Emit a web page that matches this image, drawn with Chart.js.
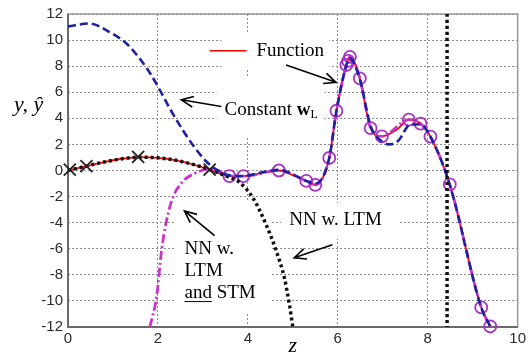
<!DOCTYPE html>
<html>
<head>
<meta charset="utf-8">
<script src="https://cdn.jsdelivr.net/npm/chart.js@4.4.1/dist/chart.umd.min.js"></script>
<style>
  html, body { margin: 0; padding: 0; background: #fff; }
  #wrap { width: 529px; height: 353px; position: relative; }
</style>
</head>
<body>
<div id="wrap"><canvas id="chart"></canvas></div>
<script>
// True function (red)
const funcZ = [0, 0.4, 0.8, 1.2, 1.6, 2.0, 2.4, 2.8, 3.15, 3.59, 3.9, 4.3, 4.69, 5.0, 5.3, 5.5, 5.81, 5.97, 6.19, 6.23, 6.27, 6.49, 6.73, 6.98, 7.3, 7.58, 7.84, 8.06, 8.49, 9.19, 9.39];
const funcY = [0, 0.33, 0.65, 0.9, 1.02, 0.97, 0.78, 0.45, 0.07, -0.43, -0.43, -0.2, 0.0, -0.35, -0.8, -1.1, 0.96, 4.58, 8.09, 8.4, 8.72, 7.07, 3.25, 2.62, 3.1, 3.9, 3.6, 2.6, -1.1, -10.5, -11.96];

// Constant w_L (blue dashed)
const constZ = [0, 0.48, 0.93, 1.3, 1.59, 1.85, 2.04, 2.26, 2.48, 2.77, 3.07, 3.29, 3.51, 3.9, 4.3, 4.69, 5.0, 5.3, 5.5, 5.81, 5.97, 6.19, 6.27, 6.49, 6.73, 6.92, 7.14, 7.35, 7.6, 7.84, 8.06, 8.49, 9.19, 9.39];
const constY = [11.05, 11.27, 10.6, 9.74, 8.6, 7.33, 6.18, 4.78, 3.5, 1.98, 0.71, 0.08, -0.3, -0.43, -0.15, 0.05, -0.3, -0.8, -1.0, 0.96, 4.58, 8.05, 8.6, 7.0, 3.4, 2.4, 2.0, 2.3, 3.5, 3.55, 2.6, -1.1, -10.5, -11.96];

// NN w. LTM (black dotted)
const ltmZ = [0, 0.4, 0.8, 1.2, 1.6, 2.0, 2.4, 2.8, 3.15, 3.5, 3.81, 4.11, 4.4, 4.63, 4.81, 4.92, 5.0];
const ltmY = [0, 0.33, 0.65, 0.9, 1.02, 0.97, 0.78, 0.45, 0.07, -0.4, -0.9, -2.09, -4.1, -6.16, -8.2, -10.2, -12];

// NN w. LTM and STM (magenta dash-dot)
const stmZ = [1.82, 1.97, 2.08, 2.19, 2.33, 2.56, 2.85, 3.1, 3.3, 3.59, 3.9, 4.69, 5.3, 5.5, 5.81, 5.97, 6.19, 6.27, 6.49, 6.73, 6.98, 7.58, 7.84, 8.06, 8.49, 9.19, 9.39];
const stmY = [-12, -9.7, -6.16, -3.87, -2.09, -0.82, -0.18, 0.1, 0.05, -0.43, -0.43, 0.0, -0.8, -1.1, 0.96, 4.58, 8.09, 8.72, 7.07, 3.25, 2.62, 3.9, 3.6, 2.6, -1.07, -10.5, -11.96];

// samples: circles (STM) and crosses (LTM)
const circleZ = [3.59, 3.9, 4.69, 5.3, 5.5, 5.81, 5.97, 6.19, 6.23, 6.27, 6.49, 6.73, 6.98, 7.58, 7.84, 8.06, 8.49, 9.19, 9.39];
const circleY = [-0.43, -0.43, 0.0, -0.8, -1.1, 0.96, 4.58, 8.09, 8.4, 8.72, 7.07, 3.25, 2.62, 3.9, 3.6, 2.6, -1.07, -10.5, -11.96];
const crossZ = [0.04, 0.41, 1.56, 3.15];
const crossY = [0.07, 0.33, 1.04, 0.07];

// vertical dotted marker
const markerZ = [8.43, 8.43];
const markerY = [12, -12];

const pts = (xs, ys) => xs.map((x, i) => ({ x: x, y: ys[i] }));

const serif = '"Liberation Serif", "Times New Roman", serif';

function arrow(ctx, x1, y1, x2, y2) {
    const a = Math.atan2(y2 - y1, x2 - x1);
    const len = 13, spread = 0.42;
    ctx.beginPath();
    ctx.moveTo(x1, y1);
    ctx.lineTo(x2, y2);
    ctx.moveTo(x2 - len * Math.cos(a - spread), y2 - len * Math.sin(a - spread));
    ctx.lineTo(x2, y2);
    ctx.lineTo(x2 - len * Math.cos(a + spread), y2 - len * Math.sin(a + spread));
    ctx.stroke();
}

// white boxes, frame and labels drawn around the data
const decorPlugin = {
    id: 'decor',
    beforeDatasetsDraw(chart) {
        const { ctx, chartArea: ca, scales: { x, y } } = chart;
        ctx.save();
        ctx.fillStyle = '#fff';
        const box = (z1, y1, z2, y2) => {
            const px1 = x.getPixelForValue(z1), py1 = y.getPixelForValue(y1);
            ctx.fillRect(px1, py1, x.getPixelForValue(z2) - px1, y.getPixelForValue(y2) - py1);
        };
        box(3.41, 10.63, 5.81, 7.73);
        box(3.3, 7.12, 5.7, 2.61);
        box(2.37, -2.34, 4.52, -10.96);
        box(4.74, -2.5, 7.36, -5.25);
        // frame
        ctx.strokeStyle = '#9a9a9a';
        ctx.lineWidth = 1.5;
        ctx.strokeRect(ca.left, ca.top, ca.right - ca.left, ca.bottom - ca.top);
        ctx.strokeStyle = '#6a6a6a';
        ctx.lineWidth = 2;
        ctx.beginPath();
        ctx.moveTo(ca.left, ca.top);
        ctx.lineTo(ca.left, ca.bottom);
        ctx.lineTo(ca.right, ca.bottom);
        ctx.stroke();
        ctx.restore();
    },
    afterDatasetsDraw(chart) {
        const { ctx, chartArea: ca, scales: { x, y } } = chart;
        const X = v => x.getPixelForValue(v);
        const Y = v => y.getPixelForValue(v);
        ctx.save();
        ctx.textBaseline = 'middle';
        ctx.fillStyle = '#000';

        // legend entry
        ctx.strokeStyle = '#ff0000';
        ctx.lineWidth = 1.5;
        ctx.beginPath();
        ctx.moveTo(X(3.15), Y(9.18));
        ctx.lineTo(X(3.97), Y(9.18));
        ctx.stroke();
        ctx.font = '19px ' + serif;
        ctx.fillText('Function', X(4.19), Y(9.2));

        // Constant w_L
        let tx = X(3.48);
        const ty = Y(4.6);
        ctx.fillText('Constant ', tx, ty);
        tx += ctx.measureText('Constant ').width;
        ctx.font = 'bold 19px ' + serif;
        ctx.fillText('w', tx, ty);
        tx += ctx.measureText('w').width;
        ctx.font = '12px ' + serif;
        ctx.fillText('L', tx, ty + 4);

        // NN w. LTM and STM
        ctx.font = '19px ' + serif;
        const sx = X(2.59);
        ctx.fillText('NN w.', sx, Y(-6.0));
        ctx.fillText('LTM', sx, Y(-7.7));
        ctx.fillText('and STM', sx, Y(-9.4));
        const andW = ctx.measureText('and').width;
        ctx.strokeStyle = '#000';
        ctx.lineWidth = 1;
        ctx.beginPath();
        ctx.moveTo(sx, Y(-9.4) + 8.5);
        ctx.lineTo(sx + andW, Y(-9.4) + 8.5);
        ctx.stroke();

        // NN w. LTM
        ctx.fillText('NN w. LTM', X(4.92), Y(-3.79));

        // arrows
        ctx.lineWidth = 1.6;
        arrow(ctx, X(4.85), Y(8.09), X(5.96), Y(6.76));
        arrow(ctx, X(3.41), Y(4.91), X(2.52), Y(5.42));
        arrow(ctx, X(3.26), Y(-5.0), X(2.59), Y(-3.1));
        arrow(ctx, X(5.88), Y(-5.7), X(5.03), Y(-6.69));

        // axis labels
        ctx.font = 'italic 22px ' + serif;
        ctx.fillText('y, \u0177', ca.left - 54, Y(5.0));
        ctx.textAlign = 'center';
        ctx.fillText('z', X(5.0), ca.bottom + 19);
        ctx.restore();
    }
};

const lineBase = { showLine: true, pointRadius: 0, fill: false, cubicInterpolationMode: 'monotone' };

new Chart(document.getElementById('chart'), {
    type: 'scatter',
    data: {
        datasets: [
            { ...lineBase, label: 'Function', data: pts(funcZ, funcY), borderColor: '#ff0000', borderWidth: 1.8, order: 6 },
            { ...lineBase, label: 'NN w. LTM and STM', data: pts(stmZ, stmY), borderColor: '#cc33cc', borderWidth: 2.8, borderDash: [9, 3, 2, 3], order: 5 },
            { label: 'STM samples', data: pts(circleZ, circleY), showLine: false, pointStyle: 'circle', pointRadius: 6, pointBorderWidth: 1.8, borderColor: '#a633c4', backgroundColor: 'rgba(0,0,0,0)', clip: false, order: 4 },
            { ...lineBase, label: 'NN w. LTM', data: pts(ltmZ, ltmY), borderColor: '#111', borderWidth: 3.5, borderDash: [3, 3], order: 3 },
            { ...lineBase, label: 'Constant wL', data: pts(constZ, constY), borderColor: '#1e22a0', borderWidth: 2.6, borderDash: [8, 4], order: 2 },
            { ...lineBase, label: 'marker', data: pts(markerZ, markerY), borderColor: '#111', borderWidth: 3.5, borderDash: [3, 3], order: 1 },
            { label: 'LTM samples', data: pts(crossZ, crossY), showLine: false, pointStyle: 'crossRot', pointRadius: 8.5, pointBorderWidth: 1.8, borderColor: '#222', clip: false, order: 0 }
        ]
    },
    options: {
        responsive: true,
        maintainAspectRatio: false,
        animation: false,
        events: [],
        layout: { padding: { left: 0, top: 12, right: 10, bottom: 0 } },
        plugins: { legend: { display: false }, tooltip: { enabled: false } },
        scales: {
            x: {
                type: 'linear', min: 0, max: 10,
                afterFit: s => { s.height = 26; },
                ticks: { stepSize: 2, padding: 3, color: '#2a2a2a', font: { family: '"Liberation Sans", Arial, sans-serif', size: 15 } },
                grid: { color: '#8c8c8c', lineWidth: 1, drawTicks: false },
                border: { display: false, dash: [2, 2] }
            },
            y: {
                type: 'linear', min: -12, max: 12,
                afterFit: s => { s.width = 68; },
                ticks: { stepSize: 2, padding: 5, color: '#2a2a2a', font: { family: '"Liberation Sans", Arial, sans-serif', size: 15 } },
                grid: { color: '#8c8c8c', lineWidth: 1, drawTicks: false },
                border: { display: false, dash: [2, 2] }
            }
        }
    },
    plugins: [decorPlugin]
});
</script>
</body>
</html>
